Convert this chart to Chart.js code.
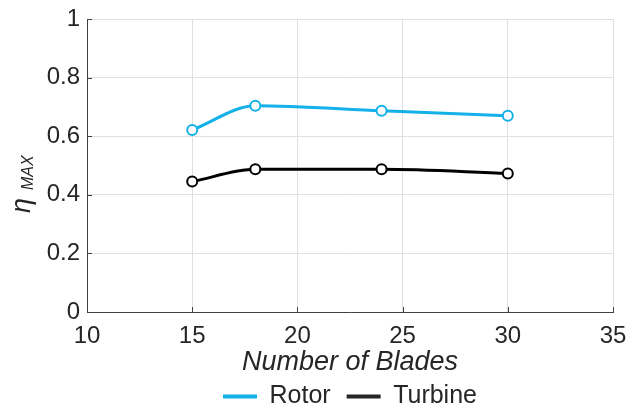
<!DOCTYPE html>
<html>
<head>
<meta charset="utf-8">
<script src="https://cdn.jsdelivr.net/npm/chart.js@4.4.1/dist/chart.umd.min.js"></script>
<style>
  html, body { margin: 0; padding: 0; background: #ffffff; }
  #wrap { width: 629px; height: 412px; }
</style>
</head>
<body>
<div id="wrap"><canvas id="c" width="629" height="412"></canvas></div>
<script>
// Number of blades tested
const blades = [15, 18, 24, 30];
// Maximum efficiency for each configuration
const rotorEta = [0.621, 0.704, 0.687, 0.670];
const turbineEta = [0.445, 0.487, 0.487, 0.473];
// Axis tick labels
const xTickValues = [10, 15, 20, 25, 30, 35];
const yTickLabels = ['0', '0.2', '0.4', '0.6', '0.8', '1'];

const FONT = "'Liberation Sans', Arial, Helvetica, sans-serif";
const TEXT = '#262626';
const AXIS = '#404040';
const CYAN = '#14b0e8';

const toPoints = (xs, ys) => xs.map((x, i) => ({ x: x, y: ys[i] }));

// Inward tick marks and the subscripted y-axis label
const axisExtras = {
  id: 'axisExtras',
  afterDraw(chart) {
    const ctx = chart.ctx;
    const xs = chart.scales.x, ys = chart.scales.y;
    const area = chart.chartArea;
    ctx.save();
    ctx.strokeStyle = AXIS;
    ctx.lineWidth = 1;
    ctx.beginPath();
    xTickValues.forEach(v => {
      const px = Math.round(xs.getPixelForValue(v)) + 0.5;
      ctx.moveTo(px, area.bottom);
      ctx.lineTo(px, area.bottom - 5);
    });
    yTickLabels.forEach(t => {
      const py = Math.round(ys.getPixelForValue(parseFloat(t))) + 0.5;
      ctx.moveTo(area.left, py);
      ctx.lineTo(area.left + 5, py);
    });
    ctx.stroke();

    // eta with MAX subscript, rotated
    ctx.translate(30, 213);
    ctx.rotate(-Math.PI / 2);
    ctx.fillStyle = TEXT;
    ctx.textAlign = 'left';
    ctx.textBaseline = 'alphabetic';
    ctx.font = 'italic 27px ' + FONT;
    ctx.fillText('\u03B7', 0, 0);
    ctx.font = 'italic 16px ' + FONT;
    ctx.fillText('MAX', 23, 3);
    ctx.restore();
  }
};

new Chart(document.getElementById('c'), {
  type: 'line',
  data: {
    datasets: [
      {
        label: 'Rotor',
        data: toPoints(blades, rotorEta),
        borderColor: CYAN,
        backgroundColor: CYAN,
        borderWidth: 3,
        pointRadius: 5,
        pointHoverRadius: 5,
        pointBorderWidth: 2,
        pointBackgroundColor: '#ffffff',
        pointBorderColor: CYAN,
        cubicInterpolationMode: 'monotone'
      },
      {
        label: 'Turbine',
        data: toPoints(blades, turbineEta),
        borderColor: '#000000',
        backgroundColor: '#262626',
        borderWidth: 3,
        pointRadius: 5,
        pointHoverRadius: 5,
        pointBorderWidth: 2,
        pointBackgroundColor: '#ffffff',
        pointBorderColor: '#000000',
        cubicInterpolationMode: 'monotone'
      }
    ]
  },
  options: {
    responsive: false,
    animation: false,
    events: [],
    layout: { padding: { top: 19, right: 16, left: 0, bottom: -7 } },
    plugins: {
      tooltip: { enabled: false },
      legend: {
        position: 'bottom',
        fullSize: false,
        labels: {
          color: TEXT,
          font: { family: FONT, size: 25 },
          boxWidth: 34,
          boxHeight: 4,
          padding: 16,
          generateLabels(chart) {
            const items = Chart.defaults.plugins.legend.labels.generateLabels(chart);
            items.forEach(it => { it.lineWidth = 0; it.strokeStyle = 'rgba(0,0,0,0)'; });
            return items;
          }
        }
      }
    },
    scales: {
      x: {
        type: 'linear',
        min: 10,
        max: 35,
        afterBuildTicks(scale) { scale.ticks = xTickValues.map(v => ({ value: v })); },
        afterFit(scale) {
          scale.height = 56;
          scale.paddingLeft = 0;
          scale.paddingRight = 0;
        },
        ticks: {
          color: TEXT,
          font: { family: FONT, size: 24 },
          padding: 10,
          maxRotation: 0,
          callback: v => String(v)
        },
        grid: { color: '#e0e0e0', lineWidth: 1, drawTicks: false },
        border: { display: true, color: AXIS, width: 1 },
        title: {
          display: true,
          text: 'Number of Blades',
          color: TEXT,
          font: { family: FONT, size: 27, style: 'italic', lineHeight: 1 },
          padding: { top: 0, bottom: -8 }
        }
      },
      y: {
        min: 0,
        max: 1,
        afterBuildTicks(scale) { scale.ticks = yTickLabels.map(t => ({ value: parseFloat(t) })); },
        afterFit(scale) {
          scale.width = 87;
          scale.paddingTop = 0;
          scale.paddingBottom = 0;
        },
        ticks: {
          color: TEXT,
          font: { family: FONT, size: 24 },
          padding: 7,
          callback: (v, i) => yTickLabels[i]
        },
        grid: { color: '#e0e0e0', lineWidth: 1, drawTicks: false },
        border: { display: true, color: AXIS, width: 1 }
      }
    }
  },
  plugins: [axisExtras]
});
</script>
</body>
</html>
